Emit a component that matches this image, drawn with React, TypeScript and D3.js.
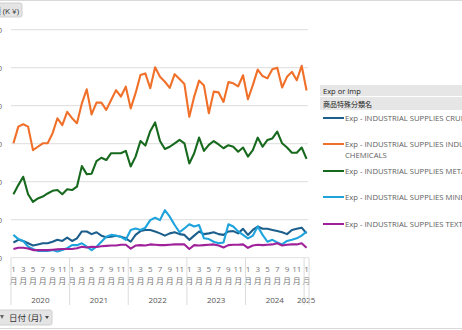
import * as d3 from "d3";

const years = [2020, 2021, 2022, 2023, 2024, 2025];
const months = d3.range(61).map((i) => `${2020 + Math.floor(i / 12)}-${(i % 12) + 1}`);
const yTicks = [0, 100, 200, 300, 400, 500, 600];

const crude = [40, 47, 44, 38, 32, 35, 38, 38, 42, 47, 44, 53, 44, 51, 69, 69, 62, 67, 58, 54, 55,
  58, 55, 51, 42, 60, 70, 73, 73, 69, 64, 58, 64, 67, 62, 60, 47, 58, 69, 62, 64, 67,
  62, 60, 69, 70, 64, 76, 60, 73, 82, 76, 76, 73, 70, 67, 62, 73, 76, 79, 64];
const chemicals = [301, 345, 351, 345, 283, 292, 301, 301, 327, 367, 349, 384, 367, 354, 406, 443, 377, 408, 408, 389, 415,
  441, 424, 450, 393, 433, 481, 485, 446, 501, 476, 463, 447, 483, 470, 457, 371, 424, 466, 453, 380, 437,
  435, 410, 462, 459, 451, 480, 417, 454, 495, 478, 472, 496, 500, 448, 476, 489, 467, 505, 440];
const metals = [167, 191, 213, 167, 147, 156, 161, 169, 176, 178, 167, 180, 178, 187, 241, 220, 221, 254, 263, 257, 275,
  275, 275, 281, 240, 266, 307, 295, 333, 356, 307, 286, 292, 301, 310, 301, 248, 275, 316, 281, 297, 307,
  298, 288, 296, 292, 279, 290, 266, 283, 316, 292, 310, 314, 332, 301, 290, 276, 276, 290, 260];
const minerals = [60, 49, 44, 29, 23, 18, 18, 18, 20, 16, 20, 25, 33, 33, 38, 29, 20, 29, 42, 55, 60,
  58, 55, 47, 73, 77, 73, 79, 99, 105, 99, 125, 108, 86, 67, 77, 88, 82, 86, 51, 49, 42,
  38, 40, 88, 82, 69, 60, 51, 58, 82, 60, 42, 47, 40, 35, 44, 47, 51, 58, 69];
const textiles = [23, 26, 26, 24, 20, 20, 20, 20, 21, 22, 23, 23, 23, 25, 29, 27, 29, 28, 30, 31, 32,
  32, 34, 34, 24, 32, 33, 32, 35, 34, 33, 33, 34, 35, 35, 35, 23, 33, 32, 33, 34, 35,
  32, 27, 33, 34, 34, 35, 26, 32, 34, 33, 34, 35, 38, 32, 34, 35, 35, 38, 26];

const series = [
  { name: ["Exp - INDUSTRIAL SUPPLIES CRUDE MATERIALS"], values: crude, color: "#1c5f8c" },
  { name: ["Exp - INDUSTRIAL SUPPLIES INDUSTRIAL", "CHEMICALS"], values: chemicals, color: "#f07029" },
  { name: ["Exp - INDUSTRIAL SUPPLIES METALS"], values: metals, color: "#17691e" },
  { name: ["Exp - INDUSTRIAL SUPPLIES MINERALS"], values: minerals, color: "#1ea3dc" },
  { name: ["Exp - INDUSTRIAL SUPPLIES TEXTILES"], values: textiles, color: "#a0229b" },
];
const legendY = [120, 146, 173, 199, 226];

const W = 462;
const H = 330;
const FONT = "'Open Sans', 'Noto Sans CJK JP', sans-serif";

export default function App() {
  const x = d3.scaleBand().domain(months).range([11, 309]);
  const y = d3.scaleLinear().domain([0, 600]).range([257.7, 29.7]);
  const line = d3
    .line<number>()
    .x((_, i) => x(months[i])! + x.bandwidth() / 2)
    .y((d) => y(d));

  return (
    <svg width={W} height={H} style={{ position: "absolute", left: 0, top: 0, background: "#fff" }} fontFamily={FONT}>
      <line x1={0} x2={W} y1={0.5} y2={0.5} stroke="#d9d9d9" />
      <line x1={0} x2={W} y1={328.5} y2={328.5} stroke="#d9d9d9" />

      {/* value field button, cut at left */}
      <rect x={-10} y={3} width={32} height={14} rx={2} fill="#e4e4e4" stroke="#cfcfcf" />
      <text x={19} y={13.5} fontSize={8} textAnchor="end" fill="#333">金額 (K ¥)</text>

      {yTicks.slice(1).map((t) => (
        <line key={t} x1={11} x2={308} y1={y(t)} y2={y(t)} stroke="#e3e3e3" strokeWidth={1.2} />
      ))}
      {yTicks.map((t) => (
        <text key={t} x={2} y={y(t) + 3} fontSize={8} textAnchor="end" fill="#666">{t}</text>
      ))}

      {series.map((s) => (
        <path key={s.name[0]} d={line(s.values) ?? ""} fill="none" stroke={s.color} strokeWidth={2.1} strokeLinejoin="round" />
      ))}

      {/* x axis: months and years */}
      <line x1={11} x2={309} y1={257.7} y2={257.7} stroke="#e0e0e0" />
      {months.map((m, i) =>
        (i % 12) % 2 === 0 ? (
          <g key={m} fill="#777" fontSize={8} textAnchor="middle">
            <text x={x(m)! + x.bandwidth() / 2} y={272}>{(i % 12) + 1}</text>
            <text x={x(m)! + x.bandwidth() / 2} y={284}>月</text>
          </g>
        ) : null
      )}
      {years.map((yr) => {
        const start = x(`${yr}-1`)!;
        const end = yr === 2025 ? 309 : x(`${yr + 1}-1`)!;
        return (
          <g key={yr}>
            <line x1={start} x2={start} y1={257.7} y2={305} stroke="#dcdcdc" />
            <text x={yr === 2025 ? start + 2 : (start + end) / 2} y={303} fontSize={8} textAnchor="middle" fill="#555">{yr}</text>
          </g>
        );
      })}
      <line x1={309} x2={309} y1={257.7} y2={305} stroke="#dcdcdc" />

      {/* axis field button */}
      <rect x={-4} y={310} width={56} height={15} rx={2} fill="#e4e4e4" stroke="#cfcfcf" />
      <path d="M0,315 L4,315 L2,319 Z" fill="#666" />
      <text x={9} y={321} fontSize={8.5} fill="#333">日付 (月)</text>
      <path d="M45,316 L49,316 L47,319 Z" fill="#444" />

      {/* legend */}
      <rect x={320} y={85} width={142} height={11} fill="#e6e6e6" />
      <rect x={320} y={97} width={142} height={13} fill="#e6e6e6" />
      <text x={323} y={94} fontSize={7.5} fill="#222">Exp or Imp</text>
      <text x={323} y={107} fontSize={7} fill="#222">商品特殊分類名</text>
      {series.map((s, i) => (
        <g key={s.name[0]}>
          <line x1={323} x2={344} y1={legendY[i] - 2} y2={legendY[i] - 2} stroke={s.color} strokeWidth={2} />
          {s.name.map((ln, j) => (
            <text key={j} x={345} y={legendY[i] + 1 + j * 11} fontSize={7.7} fill="#606060">{ln}</text>
          ))}
        </g>
      ))}
    </svg>
  );
}
